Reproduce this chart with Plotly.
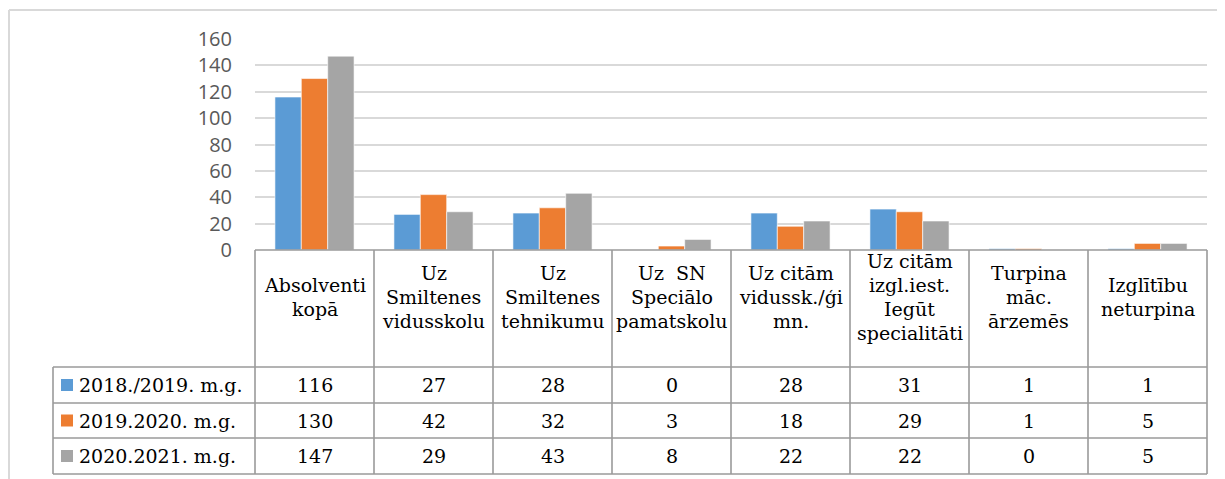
import plotly.graph_objects as go

# ---------------- data ----------------
categories = [
    "Absolventi kopā",
    "Uz Smiltenes vidusskolu",
    "Uz Smiltenes tehnikumu",
    "Uz SN Speciālo pamatskolu",
    "Uz citām vidussk./ģimn.",
    "Uz citām izgl.iest. Iegūt specialitāti",
    "Turpina māc. ārzemēs",
    "Izglītību neturpina",
]
header_lines = [
    ["Absolventi", "kopā"],
    ["Uz", "Smiltenes", "vidusskolu"],
    ["Uz", "Smiltenes", "tehnikumu"],
    ["Uz\u00a0 SN", "Speciālo", "pamatskolu"],
    ["Uz citām", "vidussk./ģi", "mn."],
    ["Uz citām", "izgl.iest.", "Iegūt", "specialitāti"],
    ["Turpina", "māc.", "ārzemēs"],
    ["Izglītību", "neturpina"],
]
series_names = ["2018./2019. m.g.", "2019.2020. m.g.", "2020.2021. m.g."]
v_2018_2019 = [116, 27, 28, 0, 28, 31, 1, 1]
v_2019_2020 = [130, 42, 32, 3, 18, 29, 1, 5]
v_2020_2021 = [147, 29, 43, 8, 22, 22, 0, 5]
series_values = [v_2018_2019, v_2019_2020, v_2020_2021]
series_colors = ["#5B9BD5", "#ED7D31", "#A5A5A5"]
y_ticks = [0, 20, 40, 60, 80, 100, 120, 140, 160]

# ---------------- layout geometry (screen pixels) ----------------
OFF = 8  # page body margin
SW, SH = 1225, 479
W, H = SW - OFF, SH - OFF
L, R, T, B = 255, 1207, 39, 250          # plot area on screen
PW, PH = R - L, B - T


def px(x):
    return (x - L) / PW


def py(y):
    return (B - y) / PH


fig = go.Figure()
for name, vals, col in zip(series_names, series_values, series_colors):
    fig.add_trace(go.Bar(
        x=categories, y=vals, name=name,
        marker=dict(color=col, line=dict(color="white", width=0.6)),
        showlegend=False,
    ))

shapes = []
annotations = []
tcol = "#9a9a9a"
tw = 1.6

# outer light frame
shapes.append(dict(type="line", xref="paper", yref="paper", x0=px(9), x1=px(SW + 5),
                   y0=py(10), y1=py(10), line=dict(color="#d9d9d9", width=2)))
shapes.append(dict(type="line", xref="paper", yref="paper", x0=px(9), x1=px(9),
                   y0=py(10), y1=py(SH + 5), line=dict(color="#d9d9d9", width=2)))

# table geometry
legend_left = 53
header_top = B
row_lines = [367, 403, 438, 474]
n = len(categories)

shapes.append(dict(type="line", xref="paper", yref="paper", x0=0, x1=1,
                   y0=py(header_top), y1=py(header_top), line=dict(color=tcol, width=tw)))
for yl in row_lines:
    shapes.append(dict(type="line", xref="paper", yref="paper", x0=px(legend_left), x1=1,
                       y0=py(yl), y1=py(yl), line=dict(color=tcol, width=tw)))
for k in range(n + 1):
    shapes.append(dict(type="line", xref="paper", yref="paper", x0=k / n, x1=k / n,
                       y0=py(header_top), y1=py(row_lines[-1]), line=dict(color=tcol, width=tw)))
shapes.append(dict(type="line", xref="paper", yref="paper", x0=px(legend_left), x1=px(legend_left),
                   y0=py(row_lines[0]), y1=py(row_lines[-1]), line=dict(color=tcol, width=tw)))

serif = dict(family="DejaVu Serif", size=19, color="#000000")

hdr_center = 297
line_sp = 24.3
for cat, lines in zip(categories, header_lines):
    m = len(lines)
    for i, t in enumerate(lines):
        yc = hdr_center + (i - (m - 1) / 2) * line_sp
        annotations.append(dict(x=cat, xref="x", y=py(yc), yref="paper", text=t,
                                showarrow=False, font=serif, xanchor="center", yanchor="middle"))

for r, (name, vals, col) in enumerate(zip(series_names, series_values, series_colors)):
    y_top, y_bot = row_lines[r], row_lines[r + 1]
    yc = (y_top + y_bot) / 2
    shapes.append(dict(type="rect", xref="paper", yref="paper", x0=px(61), x1=px(73),
                       y0=py(yc + 6), y1=py(yc - 6), line=dict(width=0), fillcolor=col))
    annotations.append(dict(x=px(77), xref="paper", y=py(yc), yref="paper", text=name,
                            showarrow=False, font=serif, xanchor="left", yanchor="middle"))
    for cat, v in zip(categories, vals):
        annotations.append(dict(x=cat, xref="x", y=py(yc), yref="paper", text=str(v),
                                showarrow=False, font=serif, xanchor="center", yanchor="middle"))

fig.update_layout(
    width=W, height=H,
    font=dict(family="DejaVu Serif"),
    margin=dict(l=L - OFF, r=SW - R, t=T - OFF, b=SH - B, pad=0),
    paper_bgcolor="white", plot_bgcolor="white",
    barmode="group", bargap=0.335, bargroupgap=0,
    shapes=shapes, annotations=annotations,
    xaxis=dict(type="category", range=[-0.5, n - 0.5], showticklabels=False,
               showgrid=False, zeroline=False, showline=False, fixedrange=True),
    yaxis=dict(range=[0, 160], tickvals=y_ticks, showgrid=True, gridcolor="#d9d9d9",
               gridwidth=1.5, zeroline=False, showline=False, ticks="",
               ticklabelstandoff=22,
               tickfont=dict(family="Open Sans", size=20, color="#595959")),
)

fig.write_html("out.html")
